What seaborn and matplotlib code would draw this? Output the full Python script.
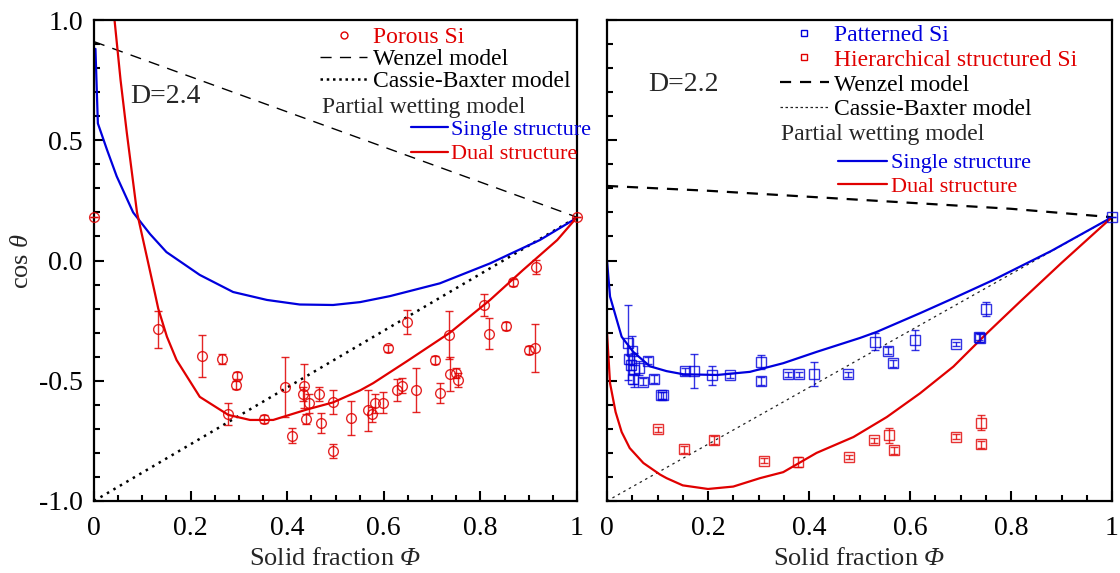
import numpy as np
import pandas as pd
import matplotlib
matplotlib.use("Agg")
import matplotlib.pyplot as plt
from matplotlib.lines import Line2D
from matplotlib.ticker import MultipleLocator, FixedLocator, FixedFormatter
import seaborn as sns

# ---------------- data ----------------
# Left panel (D=2.4): Porous Si
porous_x = [0.000, 0.133, 0.223, 0.264, 0.297, 0.293, 0.278, 0.353, 0.395, 0.410,
            0.435, 0.433, 0.445, 0.438, 0.466, 0.470, 0.495, 0.494, 0.532, 0.567,
            0.576, 0.582, 0.599, 0.609, 0.628, 0.637, 0.666, 0.649, 0.705, 0.716,
            0.734, 0.737, 0.749, 0.754, 0.808, 0.818, 0.852, 0.868, 0.901, 0.913,
            0.915, 1.000]
porous_y = [0.180, -0.286, -0.396, -0.410, -0.479, -0.518, -0.638, -0.659, -0.527, -0.728,
            -0.522, -0.556, -0.594, -0.659, -0.554, -0.676, -0.590, -0.792, -0.656, -0.622,
            -0.640, -0.594, -0.591, -0.365, -0.538, -0.520, -0.538, -0.257, -0.414, -0.551,
            -0.311, -0.472, -0.468, -0.497, -0.186, -0.304, -0.272, -0.091, -0.372, -0.365,
            -0.027, 0.180]
porous_err = [0.0, 0.078, 0.087, 0.020, 0.015, 0.015, 0.045, 0.015, 0.125, 0.030,
              0.090, 0.030, 0.040, 0.020, 0.030, 0.040, 0.050, 0.030, 0.070, 0.085,
              0.030, 0.040, 0.045, 0.015, 0.045, 0.030, 0.090, 0.050, 0.015, 0.040,
              0.100, 0.070, 0.020, 0.030, 0.045, 0.065, 0.015, 0.015, 0.015, 0.100,
              0.030, 0.0]

left_wenzel_x = [0.0, 1.0]
left_wenzel_y = [0.91, 0.18]
left_cb_x = [0.0, 1.0]
left_cb_y = [-1.0, 0.18]
left_single_x = [0.003, 0.008, 0.027, 0.047, 0.081, 0.116, 0.15, 0.219, 0.288, 0.358,
                 0.426, 0.495, 0.551, 0.613, 0.716, 0.82, 0.923, 0.992, 1.0]
left_single_y = [0.88, 0.57, 0.46, 0.35, 0.20, 0.11, 0.035, -0.06, -0.131, -0.164,
                 -0.183, -0.185, -0.173, -0.148, -0.095, -0.012, 0.085, 0.168, 0.18]
left_dual_x = [0.040, 0.055, 0.068, 0.089, 0.110, 0.126, 0.133, 0.151, 0.171, 0.219,
               0.278, 0.323, 0.371, 0.44, 0.495, 0.551, 0.578, 0.647, 0.737, 0.82,
               0.888, 0.959, 1.0]
left_dual_y = [1.05, 0.75, 0.53, 0.20, 0.01, -0.135, -0.20, -0.317, -0.414, -0.567,
               -0.642, -0.663, -0.663, -0.62, -0.59, -0.54, -0.51, -0.42, -0.30, -0.164,
               -0.04, 0.085, 0.18]

# Right panel (D=2.2): Patterned Si and Hierarchical structured Si
patterned_x = [0.042, 0.049, 0.044, 0.047, 0.054, 0.052, 0.064, 0.071, 0.081, 0.093,
               0.107, 0.110, 0.154, 0.173, 0.207, 0.244, 0.305, 0.305, 0.359, 0.381,
               0.409, 0.478, 0.531, 0.556, 0.566, 0.610, 0.691, 0.737, 0.739, 0.750, 1.0]
patterned_y = [-0.342, -0.376, -0.411, -0.434, -0.455, -0.494, -0.448, -0.504, -0.417, -0.493,
               -0.560, -0.560, -0.460, -0.460, -0.478, -0.478, -0.423, -0.501, -0.473, -0.473,
               -0.472, -0.473, -0.337, -0.375, -0.428, -0.331, -0.347, -0.317, -0.322, -0.202, 0.18]
patterned_err = [0.155, 0.060, 0.020, 0.020, 0.070, 0.020, 0.030, 0.015, 0.015, 0.015,
                 0.015, 0.015, 0.015, 0.070, 0.040, 0.010, 0.030, 0.015, 0.010, 0.010,
                 0.050, 0.010, 0.035, 0.015, 0.015, 0.040, 0.010, 0.015, 0.015, 0.030, 0.0]
hier_x = [0.100, 0.152, 0.211, 0.310, 0.379, 0.479, 0.529, 0.559, 0.569, 0.691, 0.740, 0.740]
hier_y = [-0.702, -0.785, -0.746, -0.832, -0.838, -0.817, -0.748, -0.727, -0.789, -0.732,
          -0.674, -0.764]
hier_err = [0.010, 0.015, 0.015, 0.010, 0.020, 0.010, 0.010, 0.030, 0.015, 0.010, 0.030, 0.015]

right_wenzel_x = [0.0, 0.2, 0.4, 0.6, 0.8, 1.0]
right_wenzel_y = [0.31, 0.29, 0.265, 0.24, 0.215, 0.18]
right_cb_x = [0.0, 1.0]
right_cb_y = [-1.0, 0.18]
right_single_x = [0.0, 0.006, 0.029, 0.052, 0.085, 0.118, 0.151, 0.218, 0.283, 0.349,
                  0.415, 0.501, 0.534, 0.62, 0.686, 0.765, 0.88, 1.0]
right_single_y = [0.0, -0.15, -0.317, -0.38, -0.44, -0.46, -0.473, -0.476, -0.463, -0.427,
                  -0.38, -0.322, -0.297, -0.219, -0.157, -0.081, 0.04, 0.18]
right_dual_x = [0.0, 0.006, 0.017, 0.029, 0.045, 0.072, 0.105, 0.118, 0.15, 0.2, 0.25,
                0.303, 0.349, 0.415, 0.488, 0.554, 0.62, 0.686, 0.752, 0.818, 0.9, 1.0]
right_dual_y = [-0.30, -0.51, -0.63, -0.713, -0.78, -0.842, -0.89, -0.905, -0.935, -0.95,
                -0.94, -0.905, -0.88, -0.80, -0.734, -0.651, -0.552, -0.441, -0.303,
                -0.171, -0.01, 0.18]

x_ticks = [0, 0.2, 0.4, 0.6, 0.8, 1.0]
x_ticklabels = ["0", "0.2", "0.4", "0.6", "0.8", "1"]
y_ticks = [-1.0, -0.5, 0.0, 0.5, 1.0]
y_ticklabels = ["-1.0", "-0.5", "0.0", "0.5", "1.0"]

# ---------------- style ----------------
sns.set_theme(style="ticks")
plt.rcParams["font.family"] = ["Liberation Serif", "DejaVu Serif"]
plt.rcParams["mathtext.fontset"] = "custom"
plt.rcParams["mathtext.rm"] = "Liberation Serif:italic"
plt.rcParams["mathtext.it"] = "Liberation Serif:italic"

RED = "#e00000"
BLUE = "#0000dd"

fig = plt.figure(figsize=(11.2, 5.73), dpi=100)
axL = fig.add_axes([94 / 1120, 72 / 573, 483 / 1120, 481 / 573])
axR = fig.add_axes([607 / 1120, 72 / 573, 505 / 1120, 481 / 573])


def curve(ax, xs, ys, **kw):
    df = pd.DataFrame({"x": xs, "y": ys})
    sns.lineplot(data=df, x="x", y="y", ax=ax, sort=False, estimator=None, legend=False, **kw)


# Left panel
curve(axL, left_wenzel_x, left_wenzel_y, color="black", lw=1.0, linestyle=(0, (8, 6)))
curve(axL, left_cb_x, left_cb_y, color="black", lw=1.8, linestyle=(0, (1, 2)))
curve(axL, left_single_x, left_single_y, color=BLUE, lw=1.6)
curve(axL, left_dual_x, left_dual_y, color=RED, lw=1.6)
axL.errorbar(porous_x, porous_y, yerr=porous_err, fmt="o", ms=7, mfc="none", mec=RED,
             mew=1.0, ecolor=RED, elinewidth=1.0, capsize=3, capthick=1.0, alpha=0.85,
             clip_on=False, zorder=5)

# Right panel
curve(axR, right_wenzel_x, right_wenzel_y, color="black", lw=1.6, linestyle=(0, (5, 4)))
curve(axR, right_cb_x, right_cb_y, color="#222222", lw=0.9, linestyle=(0, (2, 3)))
curve(axR, right_single_x, right_single_y, color=BLUE, lw=1.6)
curve(axR, right_dual_x, right_dual_y, color=RED, lw=1.6)
axR.errorbar(patterned_x, patterned_y, yerr=patterned_err, fmt="s", ms=6.5, mfc="none",
             mec=BLUE, mew=1.0, ecolor=BLUE, elinewidth=1.0, capsize=3, capthick=1.0,
             alpha=0.8, clip_on=False, zorder=5)
axR.errorbar(hier_x, hier_y, yerr=hier_err, fmt="s", ms=6.5, mfc="none",
             mec=RED, mew=1.0, ecolor=RED, elinewidth=1.0, capsize=3, capthick=1.0,
             alpha=0.8, clip_on=False, zorder=5)

for ax in (axL, axR):
    ax.set_xlim(0, 1)
    ax.set_ylim(-1, 1)
    ax.xaxis.set_major_locator(FixedLocator(x_ticks))
    ax.xaxis.set_major_formatter(FixedFormatter(x_ticklabels))
    ax.xaxis.set_minor_locator(MultipleLocator(0.05))
    ax.yaxis.set_major_locator(FixedLocator(y_ticks))
    ax.yaxis.set_minor_locator(MultipleLocator(0.1))
    ax.tick_params(which="both", direction="in", top=False, right=False, width=1.5,
                   colors="black", labelsize=20)
    ax.tick_params(axis="x", pad=11)
    ax.tick_params(axis="y", pad=8)
    ax.tick_params(which="major", length=7)
    ax.tick_params(which="minor", length=4)
    for s in ax.spines.values():
        s.set_visible(True)
        s.set_linewidth(1.6)
        s.set_color("black")
    ax.set_xlabel(r"Solid fraction $\Phi$", fontsize=19, labelpad=5)
    ax.set_ylabel("")

axL.yaxis.set_major_formatter(FixedFormatter(y_ticklabels))
axR.yaxis.set_major_formatter(FixedFormatter([""] * len(y_ticks)))
axL.set_ylabel(r"cos $\theta$", fontsize=19, labelpad=4)

# Annotations
axL.text(0.0745, 0.84, "D=2.4", transform=axL.transAxes, fontsize=20, va="center", ha="left")
axR.text(0.081, 0.865, "D=2.2", transform=axR.transAxes, fontsize=20, va="center", ha="left")

# Legends - left
hL1 = [Line2D([], [], marker="o", ls="none", mfc="none", mec=RED, ms=5, mew=1.0),
       Line2D([], [], color="black", lw=1.0, ls=(0, (8, 6))),
       Line2D([], [], color="black", lw=1.8, ls=(0, (1, 1.5)))]
legL1 = axL.legend(hL1, ["Porous Si", "Wenzel model", "Cassie-Baxter model"],
                   loc="upper left", bbox_to_anchor=(0.468, 0.987), frameon=False,
                   fontsize=17, handlelength=2.0, handletextpad=0.25, borderpad=0,
                   borderaxespad=0, labelspacing=0.03, labelcolor=[RED, "black", "black"])
axL.add_artist(legL1)
axL.text(0.472, 0.819, "Partial wetting model", transform=axL.transAxes, fontsize=17,
         va="center", ha="left")
hL2 = [Line2D([], [], color=BLUE, lw=1.6), Line2D([], [], color=RED, lw=1.6)]
axL.legend(hL2, ["Single structure", "Dual structure"], loc="upper left",
           bbox_to_anchor=(0.656, 0.793), frameon=False, fontsize=16, handlelength=1.67,
           handletextpad=0.14, borderpad=0, borderaxespad=0, labelspacing=0.17,
           labelcolor=[BLUE, RED])

# Legends - right
hR1 = [Line2D([], [], marker="s", ls="none", mfc="none", mec=BLUE, ms=5, mew=1.0),
       Line2D([], [], marker="s", ls="none", mfc="none", mec=RED, ms=5, mew=1.0),
       Line2D([], [], color="black", lw=1.6, ls=(0, (5, 4))),
       Line2D([], [], color="#222222", lw=0.9, ls=(0, (2, 2)))]
legR1 = axR.legend(hR1, ["Patterned Si", "Hierarchical structured Si", "Wenzel model",
                         "Cassie-Baxter model"],
                   loc="upper left", bbox_to_anchor=(0.343, 0.991), frameon=False,
                   fontsize=17, handlelength=2.05, handletextpad=0.22, borderpad=0,
                   borderaxespad=0, labelspacing=0.14,
                   labelcolor=[BLUE, RED, "black", "black"])
axR.add_artist(legR1)
axR.text(0.345, 0.761, "Partial wetting model", transform=axR.transAxes, fontsize=17,
         va="center", ha="left")
axR.legend(hL2, ["Single structure", "Dual structure"], loc="upper left",
           bbox_to_anchor=(0.457, 0.724), frameon=False, fontsize=16, handlelength=2.2,
           handletextpad=0.18, borderpad=0, borderaxespad=0, labelspacing=0.13,
           labelcolor=[BLUE, RED])

fig.savefig("out.png", dpi=100)
